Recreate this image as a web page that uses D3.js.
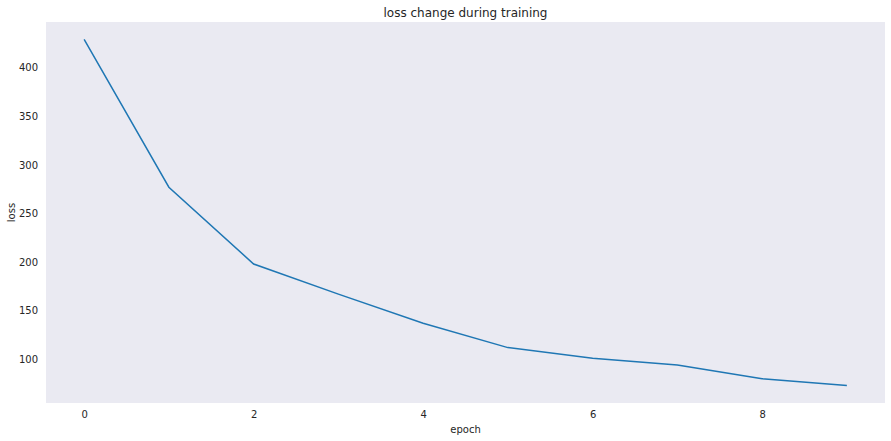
<!DOCTYPE html>
<html><head><meta charset="utf-8">
<script src="https://cdn.jsdelivr.net/npm/d3@7"></script>
<style>body{margin:0;background:#fff}text{font-family:"DejaVu Sans",sans-serif}</style>
</head><body><svg id="c" width="891" height="441"></svg>
<script>
const epochs=[0,1,2,3,4,5,6,7,8,9];
const loss=[429,277,198,167,137,112,101,94,80,73];
const xTicks=[0,2,4,6,8];
const yTicks=[100,150,200,250,300,350,400];
const svg=d3.select("#c");
const L=46,R=885,T=22,B=403;
const x=d3.scaleLinear().domain([-0.45,9.45]).range([L,R]);
const y=d3.scaleLinear().domain([55,447]).range([B,T]);
svg.append("rect").attr("x",L).attr("y",T).attr("width",R-L).attr("height",B-T).attr("fill","#eaeaf2");
const xa=svg.append("g").attr("transform",`translate(0,${B})`).call(d3.axisBottom(x).tickValues(xTicks).tickSize(0).tickPadding(8));
const ya=svg.append("g").attr("transform",`translate(${L},0)`).call(d3.axisLeft(y).tickValues(yTicks).tickSize(0).tickPadding(8));
[xa,ya].forEach(a=>{a.select(".domain").remove();a.selectAll("text").attr("font-size",10).attr("fill","#262626").style("font-family","DejaVu Sans")});
svg.append("path").datum(epochs).attr("fill","none").attr("stroke","#1f77b4").attr("stroke-width",1.5)
 .attr("d",d3.line().x(d=>x(d)).y((d,i)=>y(loss[i])));
svg.append("text").attr("x",(L+R)/2).attr("y",17).attr("text-anchor","middle").attr("font-size",12).attr("fill","#262626").text("loss change during training");
svg.append("text").attr("x",(L+R)/2).attr("y",433).attr("text-anchor","middle").attr("font-size",10).attr("fill","#262626").text("epoch");
svg.append("text").attr("transform",`translate(15,${(T+B)/2}) rotate(-90)`).attr("text-anchor","middle").attr("font-size",10).attr("fill","#262626").text("loss");
</script></body></html>
